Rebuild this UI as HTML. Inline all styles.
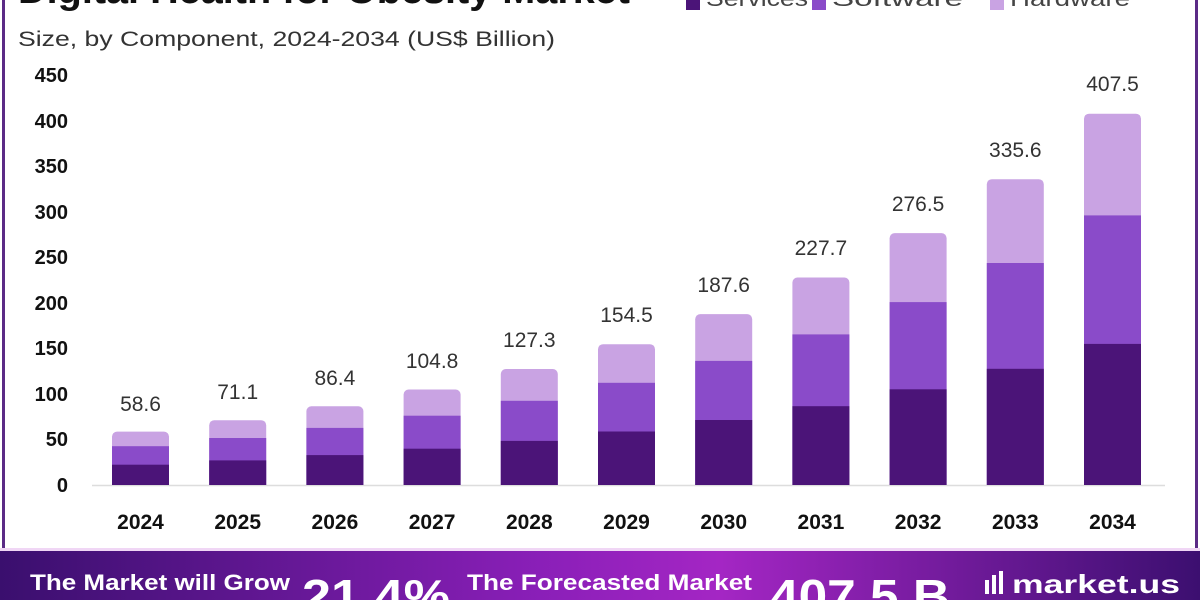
<!DOCTYPE html>
<html><head><meta charset="utf-8"><style>
html,body{margin:0;padding:0;background:#fff;}
svg{display:block;font-family:"Liberation Sans",sans-serif;}
</style></head><body>
<svg width="1200" height="600" viewBox="0 0 1200 600" xmlns="http://www.w3.org/2000/svg">
<defs>
<linearGradient id="bn" x1="0" x2="1" y1="0" y2="0">
<stop offset="0" stop-color="#3a0f6e"/><stop offset="0.45" stop-color="#8a1fb8"/><stop offset="0.6" stop-color="#a426c4"/><stop offset="1" stop-color="#3c0f70"/>
</linearGradient>
</defs>
<rect x="0" y="0" width="1200" height="600" fill="#fff"/>
<rect x="2" y="0" width="3" height="550" fill="#5b2a86"/>
<rect x="1195" y="0" width="3" height="550" fill="#5b2a86"/>
<text x="18" y="3" font-size="38" font-weight="bold" fill="#111" textLength="612" lengthAdjust="spacingAndGlyphs">Digital Health for Obesity Market</text>
<rect x="686" y="-4" width="14" height="14" fill="#4b1478"/>
<text x="706" y="6" font-size="22" fill="#444" textLength="102" lengthAdjust="spacingAndGlyphs">Services</text>
<rect x="812" y="-4" width="14" height="14" fill="#8a4bc9"/>
<text x="832" y="6" font-size="22" fill="#444" textLength="131" lengthAdjust="spacingAndGlyphs">Software</text>
<rect x="990" y="-4" width="14" height="14" fill="#c9a3e3"/>
<text x="1010" y="6" font-size="22" fill="#444" textLength="120" lengthAdjust="spacingAndGlyphs">Hardware</text>
<text x="18" y="46" font-size="21" fill="#333" textLength="537" lengthAdjust="spacingAndGlyphs">Size, by Component, 2024-2034 (US$ Billion)</text>
<g font-size="20" font-weight="bold" fill="#111" text-anchor="end">
<text x="68" y="492">0</text><text x="68" y="446">50</text><text x="68" y="401">100</text><text x="68" y="355">150</text><text x="68" y="310">200</text><text x="68" y="264">250</text><text x="68" y="219">300</text><text x="68" y="173">350</text><text x="68" y="128">400</text><text x="68" y="82">450</text>
</g>
<line x1="92" y1="485.5" x2="1165" y2="485.5" stroke="#ddd" stroke-width="1.5"/>
<g>
<rect x="112" y="431.6" width="57" height="53.4" rx="5" fill="#c9a3e3"/><rect x="112" y="446.2" width="57" height="38.8" fill="#8a4bc9"/><rect x="112" y="464.7" width="57" height="20.3" fill="#4b1478"/>
<rect x="209.2" y="420.2" width="57" height="64.8" rx="5" fill="#c9a3e3"/><rect x="209.2" y="438" width="57" height="47" fill="#8a4bc9"/><rect x="209.2" y="460.4" width="57" height="24.6" fill="#4b1478"/>
<rect x="306.4" y="406.3" width="57" height="78.7" rx="5" fill="#c9a3e3"/><rect x="306.4" y="427.9" width="57" height="57.1" fill="#8a4bc9"/><rect x="306.4" y="455.1" width="57" height="29.9" fill="#4b1478"/>
<rect x="403.6" y="389.5" width="57" height="95.5" rx="5" fill="#c9a3e3"/><rect x="403.6" y="415.7" width="57" height="69.3" fill="#8a4bc9"/><rect x="403.6" y="448.7" width="57" height="36.3" fill="#4b1478"/>
<rect x="500.8" y="369" width="57" height="116" rx="5" fill="#c9a3e3"/><rect x="500.8" y="400.8" width="57" height="84.2" fill="#8a4bc9"/><rect x="500.8" y="440.9" width="57" height="44.1" fill="#4b1478"/>
<rect x="598" y="344.2" width="57" height="140.8" rx="5" fill="#c9a3e3"/><rect x="598" y="382.8" width="57" height="102.2" fill="#8a4bc9"/><rect x="598" y="431.5" width="57" height="53.5" fill="#4b1478"/>
<rect x="695.2" y="314.1" width="57" height="170.9" rx="5" fill="#c9a3e3"/><rect x="695.2" y="360.9" width="57" height="124.1" fill="#8a4bc9"/><rect x="695.2" y="420" width="57" height="65" fill="#4b1478"/>
<rect x="792.4" y="277.5" width="57" height="207.5" rx="5" fill="#c9a3e3"/><rect x="792.4" y="334.4" width="57" height="150.6" fill="#8a4bc9"/><rect x="792.4" y="406.2" width="57" height="78.8" fill="#4b1478"/>
<rect x="889.6" y="233.1" width="57" height="251.9" rx="5" fill="#c9a3e3"/><rect x="889.6" y="302.1" width="57" height="182.9" fill="#8a4bc9"/><rect x="889.6" y="389.3" width="57" height="95.7" fill="#4b1478"/>
<rect x="986.8" y="179.2" width="57" height="305.8" rx="5" fill="#c9a3e3"/><rect x="986.8" y="263" width="57" height="222" fill="#8a4bc9"/><rect x="986.8" y="368.8" width="57" height="116.2" fill="#4b1478"/>
<rect x="1084" y="113.7" width="57" height="371.3" rx="5" fill="#c9a3e3"/><rect x="1084" y="215.4" width="57" height="269.6" fill="#8a4bc9"/><rect x="1084" y="343.9" width="57" height="141.1" fill="#4b1478"/>
</g>
<g font-size="21" fill="#333" text-anchor="middle">
<text x="140.5" y="411">58.6</text><text x="237.7" y="399">71.1</text><text x="334.9" y="385">86.4</text><text x="432.1" y="368">104.8</text><text x="529.3" y="347">127.3</text><text x="626.5" y="322">154.5</text><text x="723.7" y="292">187.6</text><text x="820.9" y="255">227.7</text><text x="918.1" y="211">276.5</text><text x="1015.3" y="157">335.6</text><text x="1112.5" y="91">407.5</text>
</g>
<g font-size="21" font-weight="bold" fill="#111" text-anchor="middle">
<text x="140.5" y="529">2024</text><text x="237.7" y="529">2025</text><text x="334.9" y="529">2026</text><text x="432.1" y="529">2027</text><text x="529.3" y="529">2028</text><text x="626.5" y="529">2029</text><text x="723.7" y="529">2030</text><text x="820.9" y="529">2031</text><text x="918.1" y="529">2032</text><text x="1015.3" y="529">2033</text><text x="1112.5" y="529">2034</text>
</g>
<rect x="0" y="548" width="1200" height="3" fill="#f0d6f5"/>
<rect x="0" y="551" width="1200" height="49" fill="url(#bn)"/>
<g fill="#fff" font-weight="bold">
<text x="30" y="590" font-size="22" textLength="260" lengthAdjust="spacingAndGlyphs">The Market will Grow</text>
<text x="302" y="612" font-size="46" textLength="148" lengthAdjust="spacingAndGlyphs">21.4%</text>
<text x="467" y="590" font-size="22" textLength="285" lengthAdjust="spacingAndGlyphs">The Forecasted Market</text>
<text x="770" y="612" font-size="46" textLength="180" lengthAdjust="spacingAndGlyphs">407.5 B</text>
<text x="1012" y="593" font-size="26" textLength="168" lengthAdjust="spacingAndGlyphs">market.us</text>
</g>
<g fill="#fff"><rect x="985" y="580" width="4" height="14"/><rect x="992" y="575" width="4" height="19"/><rect x="999" y="571" width="4" height="23"/></g>
</svg>
</body></html>
